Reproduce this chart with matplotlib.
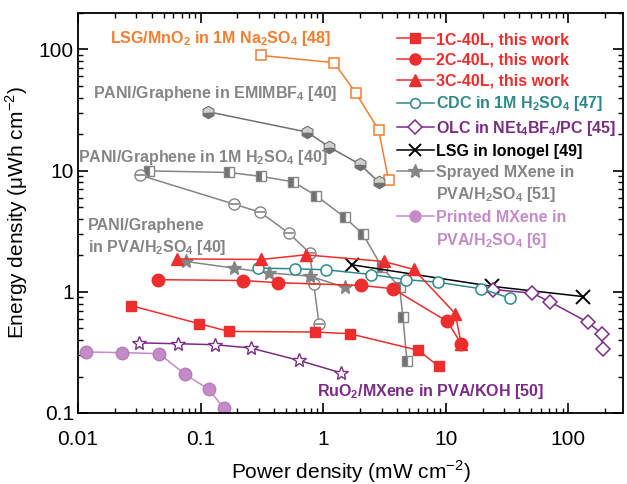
"""Energy density vs power density (Ragone plot) with literature comparison."""
import matplotlib
matplotlib.use("Agg")
from matplotlib import pyplot as plt
from matplotlib.lines import Line2D

plt.rcParams["font.family"] = ["Liberation Sans", "DejaVu Sans"]
plt.rcParams["mathtext.fontset"] = "custom"
plt.rcParams["mathtext.rm"] = "Liberation Sans"
plt.rcParams["mathtext.bf"] = "Liberation Sans:bold"

# ---- data (power mW/cm2, energy uWh/cm2) ----
c1_p = [0.027, 0.097, 0.171, 0.855, 1.65, 6.0, 8.75]
c1_e = [0.77, 0.546, 0.471, 0.466, 0.451, 0.329, 0.243]

c2_p = [0.0447, 0.22, 0.428, 2.05, 3.71, 10.3, 13.4]
c2_e = [1.26, 1.24, 1.19, 1.13, 1.06, 0.57, 0.373]

c3_p = [0.0637, 0.314, 0.72, 3.13, 5.5, 12.0, 13.4]
c3_e = [1.87, 1.85, 2.02, 1.78, 1.53, 0.66, 0.37]

cdc_p = [0.294, 0.588, 1.06, 2.47, 4.77, 8.63, 19.5, 33.2]
cdc_e = [1.57, 1.55, 1.52, 1.39, 1.26, 1.20, 1.06, 0.89]

olc_p = [24.3, 50.8, 71.6, 144, 188, 191]
olc_e = [1.045, 0.977, 0.823, 0.563, 0.451, 0.335]

iono_p = [1.73, 23.9, 131]
iono_e = [1.67, 1.11, 0.915]

spray_p = [0.0759, 0.187, 0.362, 0.778, 1.50]
spray_e = [1.78, 1.57, 1.43, 1.35, 1.09]

print_p = [0.0116, 0.0227, 0.046, 0.0745, 0.117, 0.155]
print_e = [0.319, 0.315, 0.309, 0.209, 0.157, 0.109]

ruo2_p = [0.0314, 0.0656, 0.131, 0.256, 0.633, 1.41]
ruo2_e = [0.379, 0.373, 0.366, 0.344, 0.272, 0.214]

pani_pva_p = [0.032, 0.187, 0.308, 0.527, 0.778, 0.838, 0.927]
pani_pva_e = [9.18, 5.30, 4.53, 3.04, 2.09, 1.16, 0.546]

pani_h2so4_p = [0.038, 0.170, 0.314, 0.569, 0.881, 1.50, 2.11, 3.02, 4.21, 4.48, 4.83]
pani_h2so4_e = [9.96, 9.66, 8.96, 8.09, 6.21, 4.12, 3.00, 1.60, 1.09, 0.62, 0.269]

pani_emim_p = [0.114, 0.743, 1.12, 1.99, 2.84]
pani_emim_e = [30.7, 20.8, 15.7, 11.3, 8.08]

mno2_p = [0.314, 1.23, 1.84, 2.84, 3.42]
mno2_e = [89.3, 77.8, 44.1, 21.7, 8.36]

RED = "#ee2d2d"
TEAL = "#2e8a88"
PURPLE = "#7b2c87"
GRAY = "#858585"
PINK = "#c48bc8"
ORANGE = "#f47d30"

fig = plt.figure(figsize=(6.27, 4.84), dpi=100)
ax = fig.add_axes([0.1244, 0.1467, 0.8692, 0.8264])
ax.set_xscale("log")
ax.set_yscale("log")

lw = 1.1
# literature (gray) first so red sits on top
ax.plot(mno2_p, mno2_e, "-s", color=ORANGE, mfc="white", ms=7, mew=1.1, lw=lw)
ax.plot(pani_emim_p, pani_emim_e, "-h", color="#707070", mfc="#707070",
        mfcalt="#d0d0d0", fillstyle="bottom", ms=9, mew=0.8, lw=lw)
ax.plot(pani_h2so4_p, pani_h2so4_e, "-s", color=GRAY, mfc="#707070",
        mfcalt="white", fillstyle="left", ms=7, mew=1.0, lw=lw)
ax.plot(pani_pva_p, pani_pva_e, "-o", color=GRAY, mfc="white", ms=8, mew=1.0, lw=lw)
ax.plot(pani_pva_p, pani_pva_e, "_", color=GRAY, ms=7, mew=1.2)
ax.plot(ruo2_p, ruo2_e, "-*", color=PURPLE, mfc="white", ms=10, mew=1.0, lw=lw)
ax.plot(print_p, print_e, "-o", color=PINK, mec="#b57cbb", ms=9, lw=lw)
ax.plot(spray_p, spray_e, "-*", color=GRAY, ms=10, lw=lw)
ax.plot(iono_p, iono_e, "-x", color="black", ms=10, mew=1.4, lw=lw)
ax.plot(olc_p, olc_e, "-D", color=PURPLE, mfc="white", ms=7, mew=1.1, lw=lw)
ax.plot(cdc_p, cdc_e, "-o", color=TEAL, mfc="white", ms=8, mew=1.1, lw=lw)
ax.plot(c1_p, c1_e, "-s", color=RED, ms=7, lw=lw)
ax.plot(c2_p, c2_e, "-o", color=RED, ms=9, lw=lw)
ax.plot(c3_p, c3_e, "-^", color=RED, ms=9, lw=lw)

ax.set_xlim(0.01, 280)
ax.set_ylim(0.1, 200)
ax.set_xticks([0.01, 0.1, 1, 10, 100])
ax.set_xticklabels(["0.01", "0.1", "1", "10", "100"])
ax.set_yticks([0.1, 1, 10, 100])
ax.set_yticklabels(["0.1", "1", "10", "100"])
ax.tick_params(which="both", direction="in", top=True, right=True, labelsize=15)
ax.tick_params(which="major", length=7, width=1.2)
ax.tick_params(which="minor", length=3.5, width=1.0)
ax.tick_params(axis="x", which="major", pad=12)
ax.tick_params(axis="y", which="major", pad=3)
for s in ax.spines.values():
    s.set_linewidth(1.3)
ax.set_xlabel("Power density (mW cm$^{-2}$)", fontsize=15, labelpad=7)
ax.set_ylabel("Energy density (\u03bcWh cm$^{-2}$)", fontsize=15, labelpad=6)

# annotations
FS = 11.5
ann = dict(fontsize=FS, fontweight="bold", transform=ax.transAxes, va="center")
def axpos(px, py):
    return (px - 78) / 545, (413 - py) / 400
ax.text(*axpos(110, 38), r"LSG/MnO$_\mathbf{2}$ in 1M Na$_\mathbf{2}$SO$_\mathbf{4}$ [48]",
        color=ORANGE, **ann)
ax.text(*axpos(93, 93), r"PANI/Graphene in EMIMBF$_\mathbf{4}$ [40]", color=GRAY, **ann)
ax.text(*axpos(78, 157), r"PANI/Graphene in 1M H$_\mathbf{2}$SO$_\mathbf{4}$ [40]", color=GRAY, **ann)
ax.text(*axpos(88, 225), "PANI/Graphene", color=GRAY, **ann)
ax.text(*axpos(88, 247), r"in PVA/H$_\mathbf{2}$SO$_\mathbf{4}$ [40]", color=GRAY, **ann)
ax.text(*axpos(317, 392), r"RuO$_\mathbf{2}$/MXene in PVA/KOH [50]", color=PURPLE, **ann)

# legend
blank = Line2D([], [], linestyle="none")
handles = [
    Line2D([], [], color=RED, marker="s", ms=7, lw=lw),
    Line2D([], [], color=RED, marker="o", ms=8, lw=lw),
    Line2D([], [], color=RED, marker="^", ms=8, lw=lw),
    Line2D([], [], color=TEAL, marker="o", mfc="white", ms=7, mew=1.1, lw=lw),
    Line2D([], [], color=PURPLE, marker="D", mfc="white", ms=7, mew=1.1, lw=lw),
    Line2D([], [], color="black", marker="x", ms=9, mew=1.4, lw=lw),
    Line2D([], [], color=GRAY, marker="*", ms=10, lw=lw),
    blank,
    Line2D([], [], color=PINK, marker="o", ms=8, lw=lw),
    blank,
]
labels = [
    "1C-40L, this work",
    "2C-40L, this work",
    "3C-40L, this work",
    r"CDC in 1M H$_\mathbf{2}$SO$_\mathbf{4}$ [47]",
    r"OLC in NEt$_\mathbf{4}$BF$_\mathbf{4}$/PC [45]",
    "LSG in Ionogel [49]",
    "Sprayed MXene in",
    r"PVA/H$_\mathbf{2}$SO$_\mathbf{4}$ [51]",
    "Printed MXene in",
    r"PVA/H$_\mathbf{2}$SO$_\mathbf{4}$ [6]",
]
label_colors = [RED, RED, RED, TEAL, PURPLE, "black", GRAY, GRAY, PINK, PINK]
leg = ax.legend(handles, labels, loc="upper left", bbox_to_anchor=axpos(397, 32),
                frameon=False, borderpad=0, borderaxespad=0, handlelength=2.3,
                handletextpad=0.15, labelspacing=0.36, prop={"size": FS, "weight": "bold"})
for t, c in zip(leg.get_texts(), label_colors):
    t.set_color(c)

fig.savefig("out.png", dpi=100)
